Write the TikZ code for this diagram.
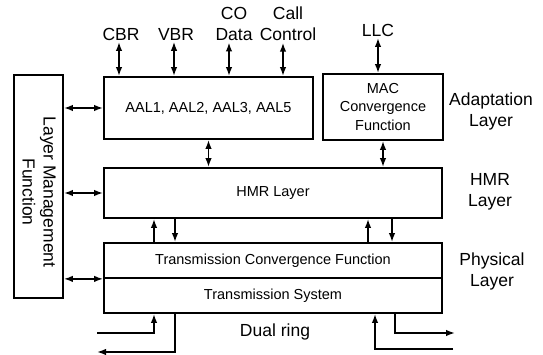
\documentclass[tikz,border=0pt]{standalone}
\usepackage{fontspec}
\setmainfont{Liberation Sans}
\usetikzlibrary{arrows.meta,positioning}
\tikzset{
  layerbox/.style={draw, line width=1.8pt, inner sep=0pt},
  boxtext/.style={font=\fontsize{14.5}{18.5}\selectfont, align=center},
  outertext/.style={font=\fontsize{17.5}{21}\selectfont, align=center, inner sep=1pt},
}

\begin{document}
\begin{tikzpicture}[x=1pt,y=-1pt,line width=1.6pt,>={Latex[length=9pt,width=6.5pt]}]
        \useasboundingbox (0,0) rectangle (543,355);

        % boxes
        \node[layerbox, minimum width=49pt, minimum height=223pt] (lm) at (38.5,186.5) {};
        \node[outertext, rotate=-90] (lmtext) at (39,192) {Layer Management\\Function};
        \node[layerbox, boxtext, minimum width=209pt, minimum height=62pt] (aal) at (208.5,108) {AAL1, AAL2, AAL3, AAL5};
        \node[layerbox, boxtext, minimum width=120pt, minimum height=66pt] (mac) at (383,107) {MAC\\Convergence\\Function};
        \node[layerbox, boxtext, minimum width=338pt, minimum height=50pt] (hmr) at (273,193) {HMR Layer};
        \node[layerbox, boxtext, minimum width=338pt, minimum height=35pt] (tcf) at (273,260.5) {Transmission Convergence Function};
        \node[layerbox, boxtext, minimum width=338pt, minimum height=35pt] (tsys) at (273,295.5) {Transmission System};

        % labels
        \node[outertext] (cbr) at (121,34) {CBR};
        \node[outertext] (vbr) at (176,34) {VBR};
        \node[outertext] (codata) at (234,24) {CO\\Data};
        \node[outertext] (call) at (288,24) {Call\\Control};
        \node[outertext] (llc) at (378,30) {LLC};
        \node[outertext] (adapt) at (491,111) {Adaptation\\Layer};
        \node[outertext] (hmrlabel) at (490,192) {HMR\\Layer};
        \node[outertext] (phys) at (492,271) {Physical\\Layer};
        \node[outertext] (ring) at (275,332) {Dual ring};

        % arrow positions
        \coordinate (tx1) at (119,0);   \coordinate (tx2) at (174,0);
        \coordinate (tx3) at (229,0);   \coordinate (tx4) at (283,0);
        \coordinate (tx5) at (378,0);
        \coordinate (hx1) at (154,0);   \coordinate (hx2) at (175,0);
        \coordinate (hx3) at (368,0);   \coordinate (hx4) at (392,0);
        \coordinate (rx1) at (375,0);   \coordinate (rx2) at (395,0);

        \draw[<->] (tx1 |- cbr.south) -- (tx1 |- aal.north);
        \draw[<->] (tx2 |- vbr.south) -- (tx2 |- aal.north);
        \draw[<->] (tx3 |- codata.south) -- (tx3 |- aal.north);
        \draw[<->] (tx4 |- call.south) -- (tx4 |- aal.north);
        \draw[<->] (tx5 |- llc.south) -- (tx5 |- mac.north);

        \draw[<->] (aal.south) -- (aal.south |- hmr.north);
        \draw[<->] (mac.south) -- (mac.south |- hmr.north);
        \draw[->] (hx1 |- tcf.north) -- (hx1 |- hmr.south);
        \draw[->] (hx2 |- hmr.south) -- (hx2 |- tcf.north);
        \draw[->] (hx3 |- tcf.north) -- (hx3 |- hmr.south);
        \draw[->] (hx4 |- hmr.south) -- (hx4 |- tcf.north);

        \draw[<->] (aal.west -| lm.east) -- (aal.west);
        \draw[<->] (hmr.west -| lm.east) -- (hmr.west);
        \draw[<->] (tcf.south west -| lm.east) -- (tcf.south west);

        % dual ring
        \coordinate (ringA) at (97,333);   \coordinate (ringB) at (97,352);
        \coordinate (ringC) at (453,349);  \coordinate (ringD) at (455,333);
        \draw[->] (ringA) -| (hx1 |- tsys.south);
        \draw[->] (hx2 |- tsys.south) |- (ringB);
        \draw[->] (ringC) -| (rx1 |- tsys.south);
        \draw[->] (rx2 |- tsys.south) |- (ringD);
    \end{tikzpicture}
\end{document}
